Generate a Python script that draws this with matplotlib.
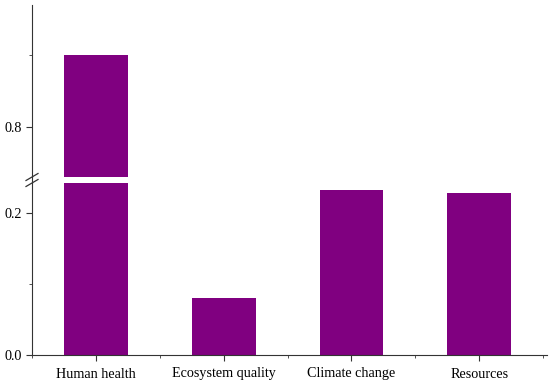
import matplotlib.pyplot as plt
from matplotlib.ticker import MultipleLocator, FormatStrFormatter
from matplotlib.lines import Line2D

categories = ['Human health', 'Ecosystem quality', 'Climate change', 'Resources']
values = [0.90, 0.080, 0.232, 0.228]

bar_color = '#800080'
plt.rcParams['font.family'] = ['Liberation Serif', 'DejaVu Serif']
plt.rcParams['font.size'] = 10.2

fig = plt.figure(figsize=(5.5, 3.85), dpi=100)
W, H = 550.0, 385.0
left = 32 / W
width = (547 - 32) / W
ax_lo = fig.add_axes([left, (H - 355) / H, width, (355 - 183) / H])
ax_hi = fig.add_axes([left, (H - 177) / H, width, (177 - 5) / H])

x = list(range(len(categories)))
for ax in (ax_lo, ax_hi):
    ax.bar(x, values, width=0.5, color=bar_color, edgecolor='none')
    ax.set_xlim(-0.5, 3.53)
    ax.spines['top'].set_visible(False)
    ax.spines['right'].set_visible(False)
    ax.spines['left'].set_color('#333333')
    ax.spines['bottom'].set_color('#333333')
    ax.tick_params(which='major', direction='out', length=4, color='#333333')
    ax.tick_params(which='minor', direction='out', length=2.5, color='#333333')

ax_lo.set_ylim(0, (355 - 183) / 710)
ax_lo.yaxis.set_major_locator(MultipleLocator(0.2))
ax_lo.yaxis.set_minor_locator(MultipleLocator(0.1))
ax_lo.yaxis.set_major_formatter(FormatStrFormatter('%.1f'))
ax_lo.set_xticks(x)
ax_lo.set_xticklabels(categories)
ax_lo.xaxis.set_minor_locator(MultipleLocator(1, offset=0.5))
ax_lo.tick_params(axis='x', which='major', pad=5)

ax_hi.set_ylim(0.8 - (177 - 127) / 720, 0.8 + (127 - 5) / 720)
ax_hi.yaxis.set_major_locator(MultipleLocator(0.2))
ax_hi.yaxis.set_minor_locator(MultipleLocator(0.1))
ax_hi.yaxis.set_major_formatter(FormatStrFormatter('%.1f'))
ax_hi.spines['bottom'].set_visible(False)
ax_hi.set_xticks([])
ax_hi.xaxis.set_minor_locator(plt.NullLocator())

# continuous axis line through the gap
xl = 32 / W
fig.add_artist(Line2D([xl, xl], [(H - 183) / H, (H - 177) / H], color='#333333', lw=0.8))
# break marks
for dy in (-3, 3):
    fig.add_artist(Line2D([26 / W, 38 / W], [(H - 180 + dy - 3.5) / H, (H - 180 + dy + 3.5) / H],
                          color='#333333', lw=0.9))

fig.savefig('out.png', dpi=100)
